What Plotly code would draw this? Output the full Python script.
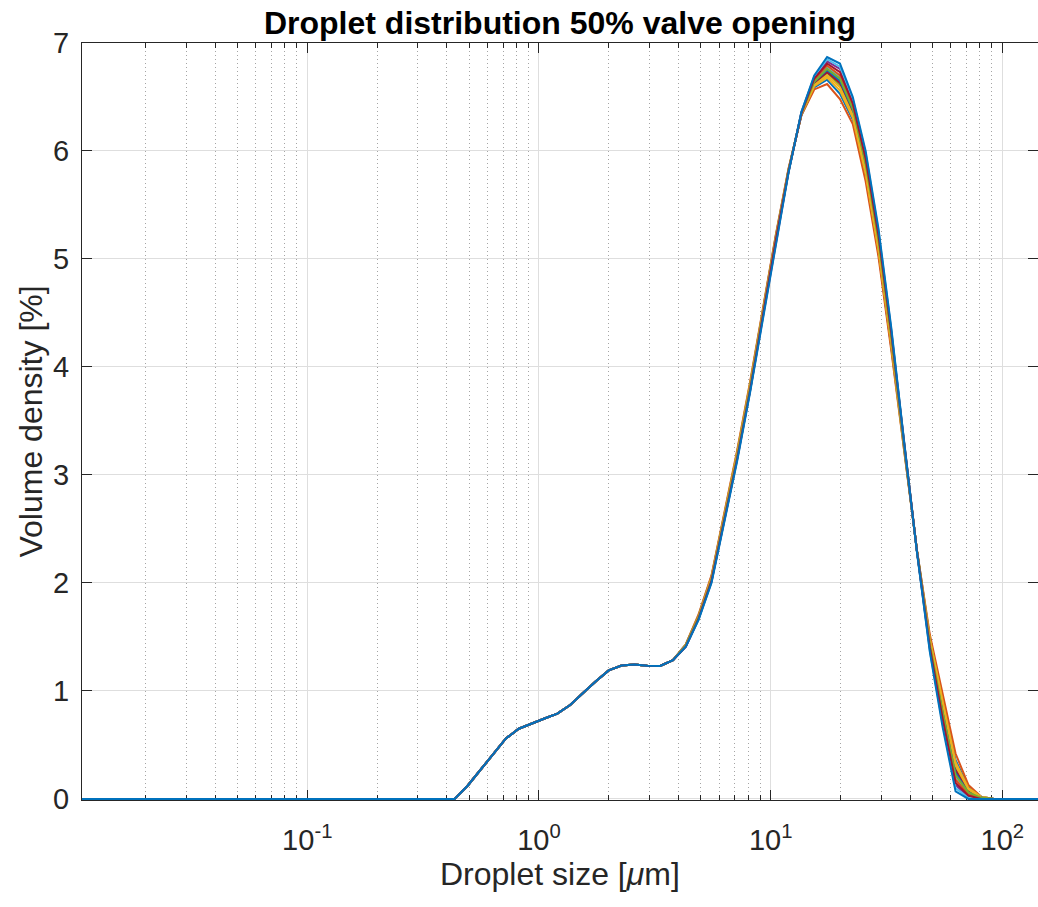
import plotly.graph_objects as go

# Bin-centre droplet sizes [um]
sizes_um = [
    0.010659, 0.012110, 0.013759, 0.015633, 0.017762, 0.020181, 0.022929, 0.026051,
    0.029598, 0.033628, 0.038207, 0.043410, 0.049321, 0.056037, 0.063668, 0.072338,
    0.082188, 0.093380, 0.10610, 0.12054, 0.13696, 0.15561, 0.17680, 0.20087,
    0.22822, 0.25930, 0.29461, 0.33473, 0.38031, 0.43210, 0.49093, 0.55778,
    0.63374, 0.72004, 0.81809, 0.92949, 1.0561, 1.1999, 1.3633, 1.5489,
    1.7598, 1.9995, 2.2718, 2.5811, 2.9326, 3.3320, 3.7857, 4.3012,
    4.8869, 5.5524, 6.3085, 7.1675, 8.1436, 9.2525, 10.513, 11.944,
    13.570, 15.418, 17.518, 19.903, 22.613, 25.693, 29.191, 33.166,
    37.682, 42.814, 48.644, 55.268, 62.794, 71.345, 81.060, 92.098,
    104.64, 118.89, 135.08, 153.47,
]

# Volume density [%] shared by all runs below ~4 um (bins 0..46)
common_low = [
    0, 0, 0, 0, 0, 0, 0, 0, 0, 0,
    0, 0, 0, 0, 0, 0, 0, 0, 0, 0,
    0, 0, 0, 0, 0, 0, 0, 0, 0, 0.0,
    0.12, 0.27, 0.42, 0.56, 0.65, 0.70, 0.745, 0.79, 0.87, 0.98,
    1.09, 1.19, 1.236, 1.245, 1.233, 1.232, 1.285,
]

# Volume density [%] of each run for bins 47..70 (4.3 um .. 81 um)
run_01 = [1.43, 1.70, 2.06, 2.65, 3.21, 3.84, 4.53, 5.21, 5.83,
          6.33, 6.59, 6.66, 6.53, 6.29, 5.77, 5.06, 4.18, 3.22, 2.30, 1.49, 0.93, 0.36, 0.11, 0.02]
run_02 = [1.43, 1.71, 2.07, 2.66, 3.23, 3.86, 4.54, 5.22, 5.84,
          6.33, 6.57, 6.62, 6.48, 6.25, 5.72, 5.02, 4.15, 3.20, 2.30, 1.52, 0.98, 0.42, 0.13, 0.02]
run_03 = [1.43, 1.70, 2.05, 2.64, 3.21, 3.84, 4.52, 5.20, 5.83,
          6.34, 6.60, 6.68, 6.56, 6.31, 5.79, 5.08, 4.20, 3.22, 2.30, 1.48, 0.90, 0.34, 0.10, 0.02]
run_04 = [1.42, 1.69, 2.04, 2.62, 3.18, 3.81, 4.50, 5.19, 5.82,
          6.34, 6.63, 6.74, 6.64, 6.37, 5.85, 5.15, 4.25, 3.25, 2.29, 1.44, 0.83, 0.25, 0.07, 0.01]
run_05 = [1.42, 1.69, 2.04, 2.62, 3.19, 3.82, 4.50, 5.19, 5.82,
          6.34, 6.62, 6.72, 6.61, 6.35, 5.83, 5.12, 4.23, 3.24, 2.29, 1.46, 0.85, 0.28, 0.08, 0.01]
run_06 = [1.42, 1.68, 2.03, 2.61, 3.17, 3.80, 4.49, 5.18, 5.82,
          6.35, 6.65, 6.77, 6.68, 6.40, 5.89, 5.18, 4.28, 3.26, 2.29, 1.42, 0.79, 0.21, 0.05, 0.01]
run_07 = [1.42, 1.69, 2.04, 2.62, 3.19, 3.82, 4.50, 5.19, 5.82,
          6.34, 6.63, 6.73, 6.63, 6.36, 5.84, 5.13, 4.24, 3.24, 2.29, 1.45, 0.84, 0.27, 0.07, 0.01]
run_08 = [1.42, 1.68, 2.03, 2.61, 3.18, 3.81, 4.49, 5.18, 5.82,
          6.35, 6.64, 6.75, 6.65, 6.38, 5.87, 5.16, 4.26, 3.25, 2.29, 1.44, 0.81, 0.24, 0.06, 0.01]
run_09 = [1.42, 1.68, 2.02, 2.60, 3.16, 3.79, 4.48, 5.17, 5.81,
          6.35, 6.66, 6.79, 6.70, 6.42, 5.91, 5.20, 4.29, 3.27, 2.29, 1.41, 0.76, 0.18, 0.04, 0.01]
run_10 = [1.42, 1.69, 2.05, 2.63, 3.20, 3.83, 4.51, 5.20, 5.83,
          6.34, 6.61, 6.70, 6.59, 6.33, 5.81, 5.10, 4.22, 3.23, 2.29, 1.47, 0.88, 0.31, 0.09, 0.01]
run_11 = [1.41, 1.67, 2.01, 2.58, 3.15, 3.78, 4.46, 5.16, 5.81,
          6.36, 6.68, 6.83, 6.76, 6.46, 5.96, 5.24, 4.33, 3.28, 2.28, 1.39, 0.71, 0.13, 0.02, 0.00]
run_12 = [1.42, 1.68, 2.03, 2.61, 3.17, 3.80, 4.49, 5.18, 5.82,
          6.35, 6.64, 6.76, 6.67, 6.39, 5.88, 5.17, 4.27, 3.26, 2.29, 1.43, 0.80, 0.22, 0.06, 0.01]
run_13 = [1.41, 1.66, 2.01, 2.58, 3.14, 3.77, 4.46, 5.16, 5.80,
          6.36, 6.69, 6.85, 6.78, 6.48, 5.98, 5.26, 4.34, 3.29, 2.28, 1.37, 0.69, 0.10, 0.01, 0.00]
run_14 = [1.41, 1.67, 2.02, 2.59, 3.15, 3.78, 4.47, 5.17, 5.81,
          6.35, 6.67, 6.81, 6.73, 6.44, 5.93, 5.22, 4.31, 3.28, 2.29, 1.40, 0.74, 0.15, 0.03, 0.00]
run_15 = [1.41, 1.66, 2.00, 2.57, 3.13, 3.76, 4.45, 5.15, 5.80,
          6.36, 6.70, 6.87, 6.81, 6.50, 6.00, 5.28, 4.36, 3.30, 2.28, 1.36, 0.66, 0.07, 0.00, 0.00]

# bins 71..75 are empty for every run
common_high = [0, 0, 0, 0, 0]

runs = [run_01, run_02, run_03, run_04, run_05, run_06, run_07, run_08,
        run_09, run_10, run_11, run_12, run_13, run_14, run_15]

colors = ['#0072BD', '#D95319', '#EDB120', '#7E2F8E', '#77AC30', '#4DBEEE', '#A2142F']

major_vals = [0.1, 1, 10, 100]
major_text = ['10<sup>-1</sup>', '10<sup>0</sup>', '10<sup>1</sup>', '10<sup>2</sup>']
minor_vals = [m * d for d in (0.01, 0.1, 1, 10) for m in range(2, 10)]

FONT = 'Liberation Sans, Arial, Helvetica, sans-serif'
AX = '#262626'

fig = go.Figure()
for i, r in enumerate(runs):
    fig.add_trace(go.Scatter(
        x=sizes_um, y=common_low + r + common_high, mode='lines',
        line=dict(color=colors[i % 7], width=2), showlegend=False,
        hoverinfo='skip'))

fig.update_layout(
    width=1038, height=907,
    margin=dict(l=82, r=0, t=43, b=107),
    paper_bgcolor='white', plot_bgcolor='white',
    font=dict(family=FONT, color=AX, size=29),
    title=dict(text='<b>Droplet distribution 50% valve opening</b>',
               x=0.5, xref='paper', xanchor='center',
               y=1 - 23 / 907, yref='container', yanchor='middle',
               font=dict(family=FONT, size=32, color='black')),
    showlegend=False,
)

fig.update_xaxes(
    type='log', range=[-1.9723, 2.1537],
    tickmode='array', tickvals=major_vals, ticktext=major_text,
    ticks='inside', ticklen=10, tickwidth=1, tickcolor=AX,
    showline=True, linecolor=AX, linewidth=1, mirror='ticks',
    showgrid=True, gridcolor='rgb(222,222,222)', gridwidth=1,
    zeroline=False, ticklabelstandoff=14, layer='below traces',
    tickfont=dict(size=29, color=AX, family=FONT),
    minor=dict(tickmode='array', tickvals=minor_vals, ticks='inside', ticklen=5,
               tickcolor=AX, showgrid=True, gridcolor='rgb(165,165,165)',
               griddash='1px,3px', gridwidth=1),
)
fig.update_yaxes(
    range=[-0.01, 7], tickmode='array', tickvals=[0, 1, 2, 3, 4, 5, 6, 7],
    ticks='inside', ticklen=10, tickwidth=1, tickcolor=AX,
    showline=True, linecolor=AX, linewidth=1, mirror='ticks',
    showgrid=True, gridcolor='rgb(222,222,222)', gridwidth=1,
    zeroline=False, ticklabelstandoff=6, layer='below traces',
    tickfont=dict(size=29, color=AX, family=FONT),
)

fig.add_annotation(text='Droplet size [<i>μ</i>m]', xref='paper', yref='paper',
                   x=0.5, y=(800.5 - 874) / 757, xanchor='center', yanchor='middle',
                   showarrow=False, font=dict(size=32, color=AX, family=FONT))
fig.add_annotation(text='Volume density [%]', xref='paper', yref='paper',
                   x=(30 - 82) / 956, y=0.5, xanchor='center', yanchor='middle',
                   textangle=-90, showarrow=False,
                   font=dict(size=32, color=AX, family=FONT))

fig.write_html('out.html')
